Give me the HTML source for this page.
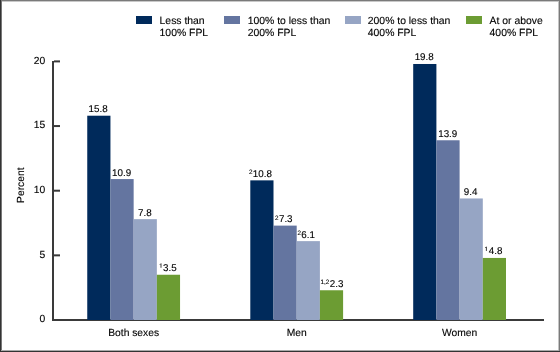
<!DOCTYPE html>
<html><head><meta charset="utf-8"><style>
html,body{margin:0;padding:0;background:#fff;}
#c{position:relative;width:560px;height:352px;overflow:hidden;background:#fff;}
svg{position:absolute;left:0;top:0;will-change:transform;}
text{font-family:"Liberation Sans",sans-serif;font-size:10.3px;fill:#000;stroke:#000;stroke-width:0.12px;text-rendering:geometricPrecision;}
</style></head><body><div id="c">
<svg width="560" height="352" viewBox="0 0 560 352">
<rect x="0" y="0" width="560" height="352" fill="#fff"/>
<rect x="136" y="16" width="16" height="8" fill="#002a5b"/>
<text x="159.6" y="24.0" style="font-size:10.4px">Less than</text>
<text x="159.6" y="35.9" style="font-size:10.4px">100% FPL</text>
<rect x="224" y="16" width="16" height="8" fill="#6475a0"/>
<text x="247.7" y="24.0" style="font-size:10.4px">100% to less than</text>
<text x="247.7" y="35.9" style="font-size:10.4px">200% FPL</text>
<rect x="345" y="16" width="16" height="8" fill="#96a5c4"/>
<text x="367.8" y="24.0" style="font-size:10.4px">200% to less than</text>
<text x="367.8" y="35.9" style="font-size:10.4px">400% FPL</text>
<rect x="466" y="16" width="16" height="8" fill="#6c9c33"/>
<text x="489.6" y="24.0" style="font-size:10.4px">At or above</text>
<text x="489.6" y="35.9" style="font-size:10.4px">400% FPL</text>
<rect x="52" y="61" width="2" height="260" fill="#3a3a3a"/>
<rect x="52" y="319" width="492" height="2" fill="#3a3a3a"/>
<rect x="54" y="254.35" width="6" height="2" fill="#3a3a3a"/>
<rect x="54" y="189.70" width="6" height="2" fill="#3a3a3a"/>
<rect x="54" y="125.05" width="6" height="2" fill="#3a3a3a"/>
<rect x="54" y="60.40" width="6" height="2" fill="#3a3a3a"/>
<text x="45.3" y="322.30" text-anchor="end">0</text>
<text x="45.3" y="257.65" text-anchor="end">5</text>
<text x="45.3" y="193.00" text-anchor="end">10</text>
<text x="45.3" y="128.35" text-anchor="end">15</text>
<text x="45.3" y="63.70" text-anchor="end">20</text>
<rect x="87.25" y="115.71" width="23.2" height="204.29" fill="#002a5b"/>
<text x="98.15" y="112.21" text-anchor="middle" style="font-size:9.8px">15.8</text>
<rect x="110.45" y="179.06" width="23.2" height="140.94" fill="#6475a0"/>
<text x="121.65" y="175.56" text-anchor="middle" style="font-size:9.8px">10.9</text>
<rect x="133.65" y="219.15" width="23.2" height="100.85" fill="#96a5c4"/>
<text x="144.85" y="215.65" text-anchor="middle" style="font-size:9.8px">7.8</text>
<rect x="156.85" y="274.75" width="23.2" height="45.25" fill="#6c9c33"/>
<text x="167.95" y="271.25" text-anchor="middle" style="font-size:9.8px"><tspan style="font-size:6.3px;fill:none;stroke:none" dy="-2.5">1</tspan><tspan dy="2.5" dx="0.4">3.5</tspan></text>
<path d="M159.90,264.75 L160.80,263.75 M161.00,263.55 V267.75" fill="none" stroke="#333" stroke-width="0.95"/>
<text x="133.65" y="335.8" text-anchor="middle">Both sexes</text>
<rect x="250.30" y="180.36" width="23.2" height="139.64" fill="#002a5b"/>
<text x="260.40" y="176.86" text-anchor="middle" style="font-size:9.8px"><tspan style="font-size:6.3px" dy="-2.5">2</tspan><tspan dy="2.5" dx="0.4">10.8</tspan></text>
<rect x="273.50" y="225.61" width="23.2" height="94.39" fill="#6475a0"/>
<text x="283.80" y="222.11" text-anchor="middle" style="font-size:9.8px"><tspan style="font-size:6.3px" dy="-2.5">2</tspan><tspan dy="2.5" dx="0.4">7.3</tspan></text>
<rect x="296.70" y="241.13" width="23.2" height="78.87" fill="#96a5c4"/>
<text x="306.20" y="237.63" text-anchor="middle" style="font-size:9.8px"><tspan style="font-size:6.3px" dy="-2.5">2</tspan><tspan dy="2.5" dx="0.4">6.1</tspan></text>
<rect x="319.90" y="290.26" width="23.2" height="29.74" fill="#6c9c33"/>
<text x="332.00" y="286.76" text-anchor="middle" style="font-size:9.8px"><tspan style="font-size:6.3px" dy="-2.5">1,2</tspan><tspan dy="2.5" dx="0.4">2.3</tspan></text>
<text x="296.70" y="335.8" text-anchor="middle">Men</text>
<rect x="413.20" y="63.99" width="23.2" height="256.01" fill="#002a5b"/>
<text x="424.20" y="60.49" text-anchor="middle" style="font-size:9.8px">19.8</text>
<rect x="436.40" y="140.27" width="23.2" height="179.73" fill="#6475a0"/>
<text x="447.75" y="136.77" text-anchor="middle" style="font-size:9.8px">13.9</text>
<rect x="459.60" y="198.46" width="23.2" height="121.54" fill="#96a5c4"/>
<text x="470.60" y="194.96" text-anchor="middle" style="font-size:9.8px">9.4</text>
<rect x="482.80" y="257.94" width="23.2" height="62.06" fill="#6c9c33"/>
<text x="493.60" y="254.44" text-anchor="middle" style="font-size:9.8px"><tspan style="font-size:6.3px;fill:none;stroke:none" dy="-2.5">1</tspan><tspan dy="2.5" dx="0.4">4.8</tspan></text>
<path d="M485.30,247.94 L486.20,246.94 M486.40,246.74 V250.94" fill="none" stroke="#333" stroke-width="0.95"/>
<text x="459.60" y="335.8" text-anchor="middle">Women</text>
<text transform="translate(23.7,185.2) rotate(-90)" text-anchor="middle">Percent</text>
<rect x="0" y="0" width="560" height="1" fill="#7a7a7a"/>
<rect x="0" y="1" width="560" height="1" fill="#c8c8c8"/>
<rect x="0" y="0" width="1" height="352" fill="#333"/>
<rect x="1" y="1" width="1" height="350" fill="#777"/>
<rect x="558" y="1" width="1" height="350" fill="#c4c4c4"/>
<rect x="559" y="0" width="1" height="352" fill="#7a7a7a"/>
<rect x="0" y="351" width="560" height="1" fill="#333"/>
<rect x="1" y="350" width="558" height="1" fill="#aaa"/>
</svg></div></body></html>
